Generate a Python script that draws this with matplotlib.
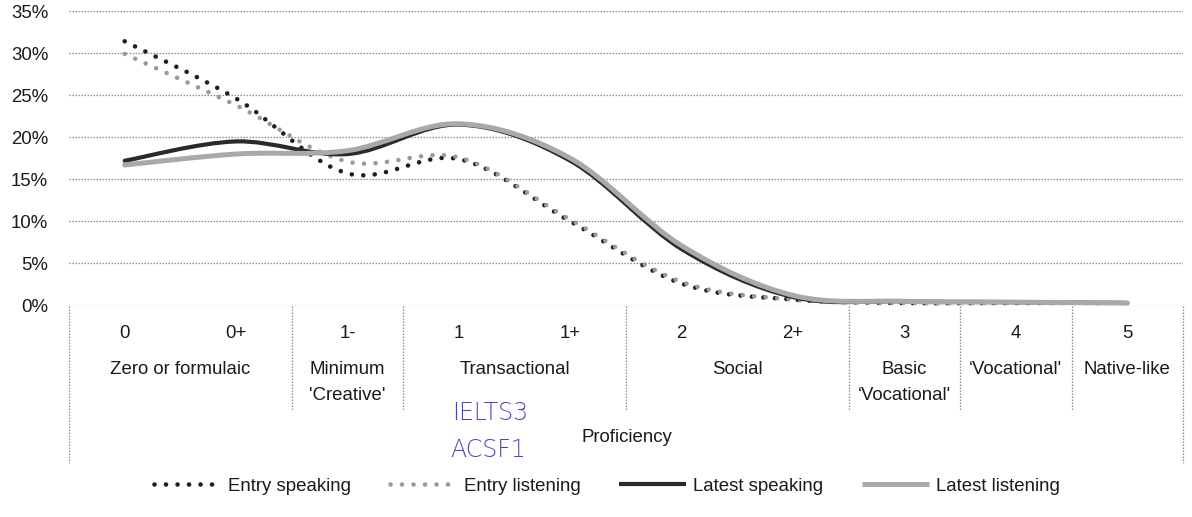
import matplotlib
matplotlib.use('Agg')
import matplotlib.pyplot as plt
from matplotlib.path import Path
from matplotlib.patches import PathPatch
from matplotlib.lines import Line2D

plt.rcParams['font.family'] = ['Liberation Sans', 'DejaVu Sans']
FS = 13.4

# ---- data ----
levels = ['0', '0+', '1-', '1', '1+', '2', '2+', '3', '4', '5']
group_labels = ['Zero or formulaic', 'Minimum\n\'Creative\'', 'Transactional', 'Social',
                'Basic\n\u2018Vocational\'', '\u2018Vocational\'', 'Native-like']
group_start = [0, 2, 3, 5, 7, 8, 9]
group_end = [1, 2, 4, 6, 7, 8, 9]

entry_speaking = [31.4, 24.6, 15.7, 17.4, 10.0, 2.6, 0.7, 0.3, 0.3, 0.3]
entry_listening = [29.9, 23.8, 17.1, 17.6, 10.2, 2.8, 0.7, 0.3, 0.3, 0.3]
latest_speaking = [17.2, 19.5, 18.0, 21.5, 17.2, 6.7, 1.0, 0.5, 0.4, 0.3]
latest_listening = [16.7, 18.0, 18.4, 21.6, 17.5, 7.1, 1.2, 0.5, 0.4, 0.3]

yticks = [0, 5, 10, 15, 20, 25, 30, 35]

W, H = 1192, 517
fig = plt.figure(figsize=(W / 100, H / 100), dpi=100)
fig.patch.set_facecolor('white')

ax_left, ax_right = 69, 1183
ax_top, ax_bot = 11, 305.5
ax = fig.add_axes([ax_left / W, 1 - ax_bot / H, (ax_right - ax_left) / W, (ax_bot - ax_top) / H])
ax.set_xlim(-0.5, len(levels) - 0.5)
ax.set_ylim(0, 35)
for s in ax.spines.values():
    s.set_visible(False)
ax.set_xticks([])
ax.set_yticks(yticks)
ax.set_yticklabels([f'{v}%' for v in yticks], fontsize=FS, color='#1a1a1a')
ax.tick_params(axis='y', length=0, pad=15)
ax.yaxis.grid(True, color='#8c8c8c', linestyle=(0, (1.2, 1.2)), linewidth=0.9)
ax.set_axisbelow(True)


def yfrac(py):
    return (ax_bot - py) / (ax_bot - ax_top)


def smooth_path(xs, ys):
    pts = list(zip(xs, ys))
    n = len(pts)
    verts = [pts[0]]
    codes = [Path.MOVETO]
    for i in range(n - 1):
        p0 = pts[i - 1] if i > 0 else pts[i]
        p1 = pts[i]
        p2 = pts[i + 1]
        p3 = pts[i + 2] if i + 2 < n else pts[i + 1]
        c1 = (p1[0] + (p2[0] - p0[0]) / 6, p1[1] + (p2[1] - p0[1]) / 6)
        c2 = (p2[0] - (p3[0] - p1[0]) / 6, p2[1] - (p3[1] - p1[1]) / 6)
        verts += [c1, c2, p2]
        codes += [Path.CURVE4] * 3
    return Path(verts, codes)


xs = list(range(len(levels)))
styles = [
    ('Entry speaking', entry_speaking, dict(color='#1e1e1e', lw=3.3, ls=(0, (0.01, 2.5)))),
    ('Entry listening', entry_listening, dict(color='#9a9a9a', lw=3.3, ls=(0, (0.01, 2.5)))),
    ('Latest speaking', latest_speaking, dict(color='#2a2a2a', lw=3.0, ls='-')),
    ('Latest listening', latest_listening, dict(color='#a9a9a9', lw=3.6, ls='-')),
]
handles = []
for i, (name, vals, st) in enumerate(styles):
    patch = PathPatch(smooth_path(xs, vals), fill=False, edgecolor=st['color'],
                      linewidth=st['lw'], linestyle=st['ls'], capstyle='round',
                      joinstyle='round', zorder=3 + i)
    ax.add_patch(patch)
    handles.append(Line2D([], [], color=st['color'], lw=st['lw'], linestyle=st['ls'],
                          dash_capstyle='round', solid_capstyle='butt', label=name))

# ---- category table below the plot ----
tr = ax.get_xaxis_transform()
grid_kw = dict(color='#8c8c8c', linestyle=(0, (1.2, 1.2)), linewidth=0.9, clip_on=False,
               transform=tr)
ax.plot([-0.5, -0.5], [0, yfrac(463)], **grid_kw)
ax.plot([9.5, 9.5], [0, yfrac(463)], **grid_kw)
for e in group_end[:-1]:
    b = e + 0.5
    ax.plot([b, b], [0, yfrac(410)], **grid_kw)

for x, lab in zip(xs, levels):
    ax.text(x, yfrac(333), lab, ha='center', va='center', fontsize=FS,
            color='#1a1a1a', transform=tr)
for lab, s, e in zip(group_labels, group_start, group_end):
    ax.text((s + e) / 2, yfrac(361), lab, ha='center', va='top', fontsize=FS,
            color='#1a1a1a', transform=tr, linespacing=1.7)

fig.text(627 / W, 1 - 438 / H, 'Proficiency', ha='center', va='center', fontsize=FS,
         color='#1a1a1a')

# handwritten annotations on the scan
fig.text(452 / W, 1 - 413 / H, 'IELTS3', ha='left', va='center', fontsize=17,
         color='#4646c0', family='DejaVu Sans', fontweight='light')
fig.text(450 / W, 1 - 450 / H, 'ACSF1', ha='left', va='center', fontsize=17,
         color='#4646c0', family='DejaVu Sans', fontweight='light')

fig.legend(handles=handles, loc='center', bbox_to_anchor=(607 / W, 1 - 486 / H),
           ncol=4, frameon=False, fontsize=FS, handlelength=3.6,
           handletextpad=0.35, columnspacing=2.1, labelcolor='#1a1a1a')

fig.savefig('out.png', dpi=100, facecolor='white')
